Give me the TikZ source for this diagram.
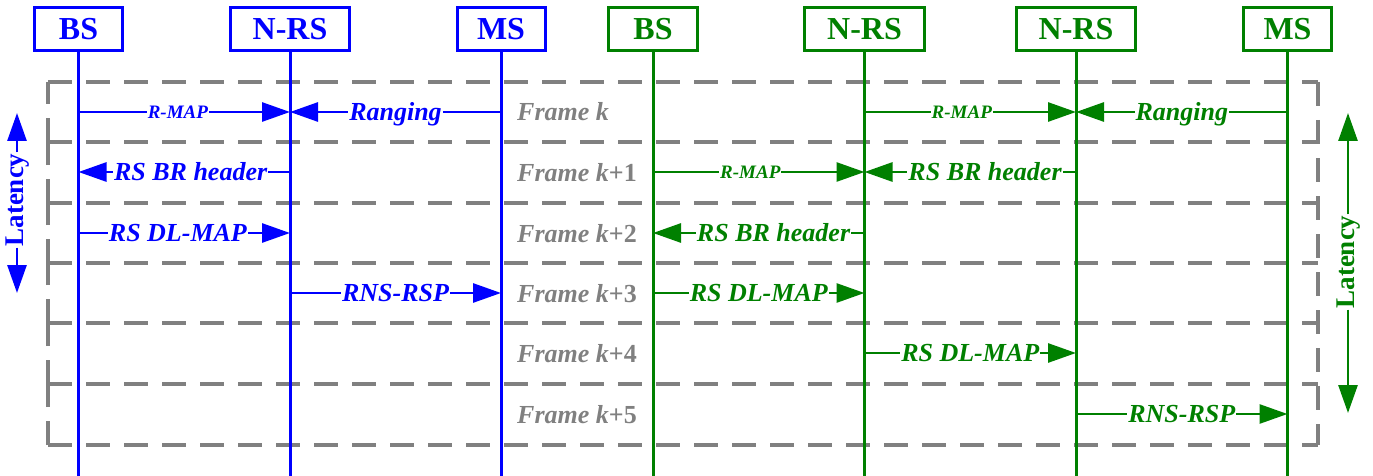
\documentclass[tikz,border=0pt]{standalone}
\usepackage{fontspec}
\setmainfont{Liberation Serif}
\usetikzlibrary{arrows.meta}
\definecolor{myblue}{RGB}{0,0,255}
\definecolor{mygreen}{RGB}{0,128,0}
\definecolor{mygray}{RGB}{128,128,128}
\begin{document}
\begin{tikzpicture}[x=1pt,y=-1pt,
  entity/.style={draw, line width=3pt, fill=white, minimum height=43pt, inner sep=0pt, font=\fontsize{32}{32}\selectfont\bfseries},
  life/.style={line width=3pt},
  msg/.style={line width=2.8pt, -{Triangle[length=28pt,width=19pt]}},
  lbl/.style={fill=white, inner xsep=1pt, inner ysep=0pt, text height=17.5pt, text depth=0pt, font=\fontsize{26}{26}\selectfont\bfseries\itshape},
  slbl/.style={lbl, text height=13pt, font=\fontsize{19}{19}\selectfont\bfseries\itshape},
  frm/.style={anchor=west, text=mygray, inner sep=0pt, text height=18pt, text depth=0pt, font=\fontsize{26}{26}\selectfont\bfseries},
  gridline/.style={draw=mygray, line width=3.5pt, dash pattern=on 24pt off 14pt},
  lat/.style={rotate=90, fill=white, inner xsep=1pt, inner ysep=0pt, text height=18pt, text depth=5pt, font=\fontsize{27}{27}\selectfont\bfseries},
  latarr/.style={line width=2.8pt, -{Triangle[length=28pt,width=19pt]}},
]
\useasboundingbox (0,0) rectangle (1373,476);

% frame grid
\draw[gridline] (48,82) -- (1318,82);
\foreach \a/\b in {82/142,142/203,203/263,263/323,323/384,384/445} {
  \draw[gridline] (48,\b) -- (1318,\b);
  \draw[gridline] (48,\b) -- (48,\a);
}
\draw[gridline] (1318,82) -- (1318,445);

% entities
\node[myblue, entity, minimum width=88pt] (bBS) at (78.5,29) {BS};
\node[myblue, entity, minimum width=119pt] (bNRS) at (290,29) {N-RS};
\node[myblue, entity, minimum width=88pt] (bMS) at (501,29) {MS};
\node[mygreen, entity, minimum width=89pt] (gBS) at (653,29) {BS};
\node[mygreen, entity, minimum width=120pt] (gNRS) at (864.5,29) {N-RS};
\node[mygreen, entity, minimum width=119pt] (gNRSb) at (1076,29) {N-RS};
\node[mygreen, entity, minimum width=88pt] (gMS) at (1287.5,29) {MS};

% lifelines
\foreach \n/\c in {bBS/myblue,bNRS/myblue,bMS/myblue,gBS/mygreen,gNRS/mygreen,gNRSb/mygreen,gMS/mygreen} {
  \coordinate (\n-end) at (\n.south |- 0,476);
  \draw[life, \c] (\n.south) -- (\n-end);
  \foreach \r/\y in {0/112,1/172,2/233,3/293,4/353,5/414} {
    \coordinate (\n-\r) at (\n.south |- 0,\y);
  }
}

% frame labels
\node[frm] (f0) at (517,112) {\itshape Frame k};
\node[frm] (f1) at (517,172) {\itshape Frame k\upshape +1};
\node[frm] (f2) at (517,233) {\itshape Frame k\upshape +2};
\node[frm] (f3) at (517,293) {\itshape Frame k\upshape +3};
\node[frm] (f4) at (517,353) {\itshape Frame k\upshape +4};
\node[frm] (f5) at (517,414) {\itshape Frame k\upshape +5};

% blue messages
\draw[msg,myblue] (bBS-0) -- node[slbl,pos=.47]{R-MAP} (bNRS-0);
\draw[msg,myblue] (bMS-0) -- node[lbl,pos=.5]{Ranging} (bNRS-0);
\draw[msg,myblue] (bNRS-1) -- node[lbl,pos=.47]{RS BR header} (bBS-1);
\draw[msg,myblue] (bBS-2) -- node[lbl,pos=.47]{RS DL-MAP} (bNRS-2);
\draw[msg,myblue] (bNRS-3) -- node[lbl,pos=.5]{RNS-RSP} (bMS-3);

% green messages
\draw[msg,mygreen] (gNRS-0) -- node[slbl,pos=.46]{R-MAP} (gNRSb-0);
\draw[msg,mygreen] (gMS-0) -- node[lbl,pos=.5]{Ranging} (gNRSb-0);
\draw[msg,mygreen] (gBS-1) -- node[slbl,pos=.46]{R-MAP} (gNRS-1);
\draw[msg,mygreen] (gNRSb-1) -- node[lbl,pos=.43]{RS BR header} (gNRS-1);
\draw[msg,mygreen] (gNRS-2) -- node[lbl,pos=.43]{RS BR header} (gBS-2);
\draw[msg,mygreen] (gBS-3) -- node[lbl,pos=.5]{RS DL-MAP} (gNRS-3);
\draw[msg,mygreen] (gNRS-4) -- node[lbl,pos=.5]{RS DL-MAP} (gNRSb-4);
\draw[msg,mygreen] (gNRSb-5) -- node[lbl,pos=.5]{RNS-RSP} (gMS-5);

% latency
\node[lat, text=myblue] (latL) at (17,200) {Latency};
\coordinate (latLt) at (17,113);
\coordinate (latLb) at (17,293);
\draw[latarr, myblue] (latL.east) -- (latLt);
\draw[latarr, myblue] (latL.west) -- (latLb);
\node[lat, text=mygreen] (latR) at (1348,262) {Latency};
\coordinate (latRt) at (1348,113);
\coordinate (latRb) at (1348,413);
\draw[latarr, mygreen] (latR.east) -- (latRt);
\draw[latarr, mygreen] (latR.west) -- (latRb);
\end{tikzpicture}
\end{document}
